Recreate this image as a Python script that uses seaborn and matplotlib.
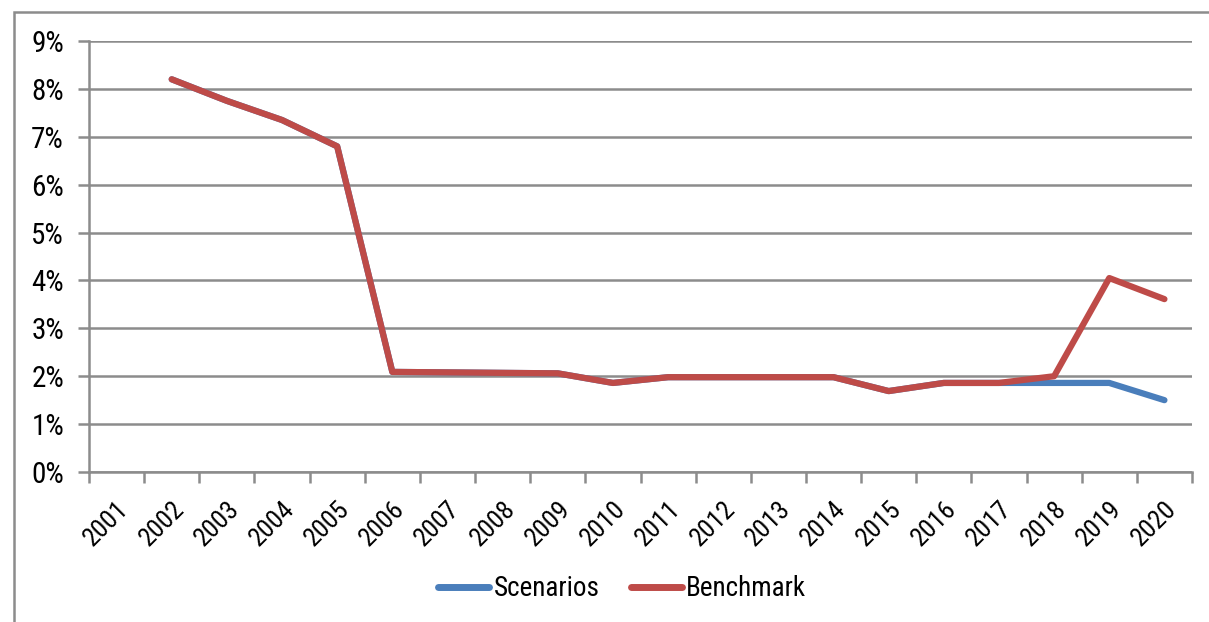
import matplotlib
matplotlib.use("Agg")
import matplotlib.pyplot as plt
from matplotlib.patches import Rectangle
from matplotlib.ticker import FixedLocator, FuncFormatter
import numpy as np
import pandas as pd
import seaborn as sns

years = [str(y) for y in range(2001, 2021)]
scenarios = [np.nan, 8.2, 7.75, 7.35, 6.8, 2.09, 2.08, 2.07, 2.06, 1.86,
             1.98, 1.98, 1.98, 1.98, 1.69, 1.86, 1.86, 1.86, 1.86, 1.50]
benchmark = [np.nan, 8.2, 7.75, 7.35, 6.8, 2.09, 2.08, 2.07, 2.06, 1.86,
             1.98, 1.98, 1.98, 1.98, 1.69, 1.86, 1.86, 2.00, 4.05, 3.61]
series_names = ["Scenarios", "Benchmark"]
colors = ["#4A7EBB", "#BE4B48"]

df = pd.DataFrame({"year": years, "Scenarios": scenarios, "Benchmark": benchmark})
long = df.melt(id_vars="year", var_name="series", value_name="value")
long["pos"] = long["year"].map({y: i for i, y in enumerate(years)})

sns.set_theme(style="white")
plt.rcParams["font.family"] = ["Roboto Condensed", "Liberation Sans", "DejaVu Sans"]
plt.rcParams["text.color"] = "black"
plt.rcParams["xtick.color"] = "black"
plt.rcParams["ytick.color"] = "black"

fig = plt.figure(figsize=(12.09, 6.22), dpi=100)
ax = fig.add_axes([89 / 1209, 1 - 472 / 622, (1192 - 89) / 1209, (472 - 41) / 622])

sns.lineplot(data=long, x="pos", y="value", hue="series", hue_order=series_names,
             palette=colors, linewidth=4.5, ax=ax, legend=False,
             solid_capstyle="round", solid_joinstyle="round")

grid_col = "#8C8C8C"
ax.set_xlim(-0.5, len(years) - 0.5)
ax.set_ylim(0, 9)
ax.set_yticks(range(0, 10))
ax.yaxis.set_major_formatter(FuncFormatter(lambda v, p: f"{int(v)}%"))
ax.grid(axis="y", color=grid_col, linewidth=1.8)
ax.set_axisbelow(True)

# Tick marks at category boundaries, labels at category centres
ax.xaxis.set_major_locator(FixedLocator(np.arange(-0.5, len(years), 1.0)))
ax.xaxis.set_minor_locator(FixedLocator(np.arange(len(years))))
ax.set_xticklabels([], minor=False)
ax.set_xticklabels(years, minor=True, rotation=45, ha="right",
                   rotation_mode="anchor", fontsize=19, color="black")
ax.tick_params(axis="x", which="major", length=8, width=1.8, color=grid_col,
               direction="out", bottom=True)
ax.tick_params(axis="x", which="minor", length=0, pad=18)
ax.tick_params(axis="y", length=8, width=1.8, color=grid_col, direction="out",
               left=True, labelsize=21, pad=10, labelcolor="black")
ax.set_xlabel("")
ax.set_ylabel("")

for side in ["top", "right"]:
    ax.spines[side].set_visible(False)
for side in ["left", "bottom"]:
    ax.spines[side].set_color(grid_col)
    ax.spines[side].set_linewidth(1.8)

handles = [plt.Line2D([], [], color=c, linewidth=5, solid_capstyle="round")
           for c in colors]
fig.legend(handles, series_names, loc="center", bbox_to_anchor=(0.5145, 1 - 589 / 622),
           ncol=2, frameon=False, fontsize=19.5, handlelength=1.9, handletextpad=0.15,
           columnspacing=1.15, labelcolor="black")

# Outer chart frame
fig.patches.append(Rectangle((14 / 1209, -0.05), 1.2, 1 - 12 / 622 + 0.05,
                             transform=fig.transFigure, fill=False,
                             edgecolor="#8C8C8C", linewidth=1.8))

fig.savefig("out.png", dpi=100)
